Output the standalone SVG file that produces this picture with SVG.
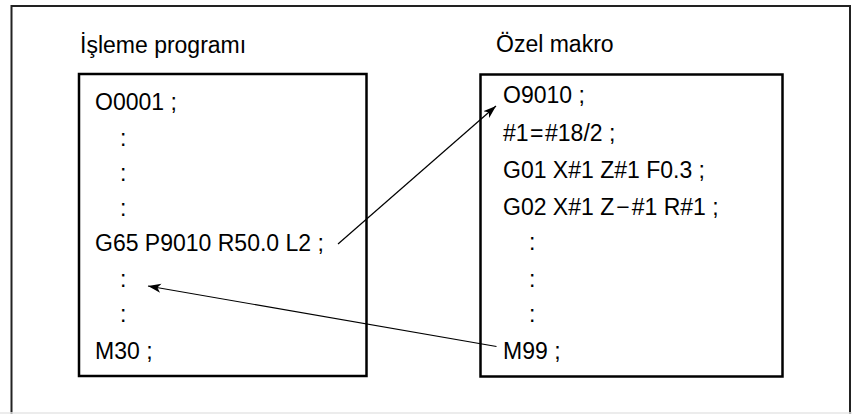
<svg xmlns="http://www.w3.org/2000/svg" width="852" height="414" viewBox="0 0 852 414">
<defs>
<style>
text{font-family:"Liberation Sans",Arial,sans-serif;font-size:23px;fill:#000}
.box{fill:#fff;stroke:#000;stroke-width:2.5}
.conn{fill:none;stroke:#000;stroke-width:1.2}
</style>
<marker id="ah" viewBox="0 -5 14 10" refX="13" refY="0" markerWidth="14" markerHeight="10" markerUnits="userSpaceOnUse" orient="auto">
<path d="M0,-4.5 L13,0 L0,4.5 L3.5,0 Z" fill="#000"/>
</marker>
</defs>
<rect width="852" height="414" fill="#fff"/>
<g id="frame">
<path d="M11.5,414 V6 H850 V414" fill="none" stroke="#222" stroke-width="2"/>
<line x1="0" y1="413" x2="852" y2="413" stroke="#e6e6e6" stroke-width="1.5"/>
</g>
<g id="program">
<text x="80" y="53">İşleme programı</text>
<rect class="box" x="79" y="74" width="287.5" height="302"/>
<text x="95" y="110">O0001 ;</text>
<text x="120" y="145.5">:</text>
<text x="120" y="181">:</text>
<text x="120" y="216">:</text>
<text x="95" y="251">G65 P9010 R50.0 L2 ;</text>
<text x="120" y="287">:</text>
<text x="120" y="322">:</text>
<text x="95" y="358.5">M30 ;</text>
</g>
<g id="macro">
<text x="496" y="52">Özel makro</text>
<rect class="box" x="480.5" y="74.5" width="302" height="302"/>
<text x="503" y="103">O9010 ;</text>
<text x="503" y="140.5">#1<tspan dx="1.5">=</tspan><tspan dx="1.5">#18/2 ;</tspan></text>
<text x="503" y="178">G01 X#1 Z#1 F0.3 ;</text>
<text x="503" y="215">G02 X#1 Z<tspan dx="2">−</tspan><tspan dx="2">#1 R#1 ;</tspan></text>
<text x="529" y="250">:</text>
<text x="529" y="287">:</text>
<text x="529" y="322">:</text>
<text x="503" y="358.5">M99 ;</text>
</g>
<g id="connectors">
<line class="conn" x1="338" y1="244" x2="496" y2="106" marker-end="url(#ah)"/>
<line class="conn" x1="496.5" y1="346.5" x2="148" y2="286" marker-end="url(#ah)"/>
</g>
</svg>
